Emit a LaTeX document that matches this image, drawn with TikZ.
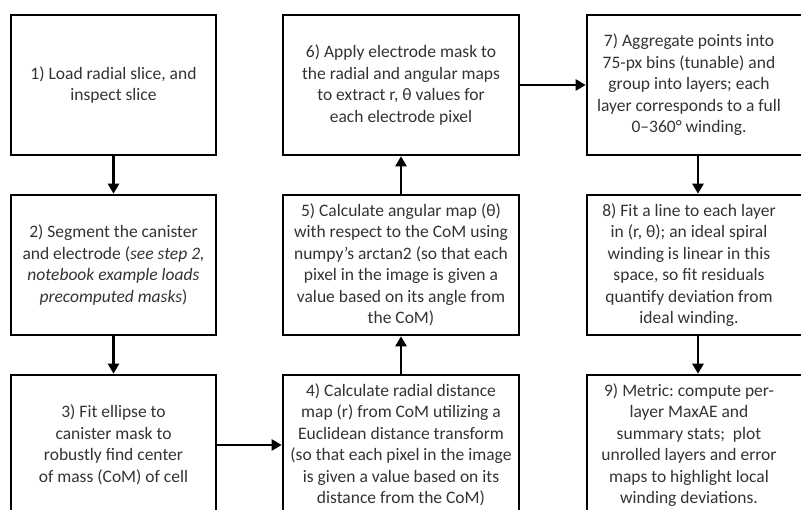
\documentclass[tikz,border=0pt]{standalone}
\usepackage{fontspec}
\setmainfont{Carlito}
\usetikzlibrary{arrows.meta}
\definecolor{txtc}{HTML}{333333}
\frenchspacing
\begin{document}
\begin{tikzpicture}[x=1pt,y=-1pt,
  box/.style={draw=black,line width=2.6pt,minimum width=#1,minimum height=140pt,inner sep=0pt},
  txt/.style={text=txtc,align=center,font=\fontsize{17.5}{21.5}\selectfont,inner sep=0pt},
  arr/.style={line width=2.4pt,-{Triangle[length=10pt,width=11pt]}}]
\useasboundingbox (0,0) rectangle (801,510);
% column 1
\node[box=205pt,txt] (b1) at (113.5,85) {1) Load radial slice, and\\inspect slice};
\node[box=205pt,txt] (b2) at (113.5,265) {2) Segment the canister\\and electrode (\textit{see step 2,}\\\textit{notebook example loads}\\\textit{precomputed masks})};
\node[box=205pt,txt] (b3) at (113.5,445) {3) Fit ellipse to\\canister mask to\\robustly find center\\of mass (CoM) of cell};
% column 2
\node[box=236pt,txt] (b6) at (401,85) {6) Apply electrode mask to\\the radial and angular maps\\to extract r, θ values for\\each electrode pixel};
\node[box=236pt,txt] (b5) at (401,265) {5) Calculate angular map (θ)\\with respect to the CoM using\\numpy’s arctan2 (so that each\\pixel in the image is given a\\value based on its angle from\\the CoM)};
\node[box=236pt,txt] (b4) at (401,445) {4) Calculate radial distance\\map (r) from CoM utilizing a\\Euclidean distance transform\\(so that each pixel in the image\\is given a value based on its\\distance from the CoM)};
% column 3
\node[box=222pt] (b7) at (698,85) {};
\node[box=222pt] (b8) at (698,265) {};
\node[box=222pt] (b9) at (698,445) {};
\node[txt] (t7) at (689,85) {7) Aggregate points into\\75-px bins (tunable) and\\group into layers; each\\layer corresponds to a full\\0–360° winding.};
\node[txt] (t8) at (689,265) {8) Fit a line to each layer\\in (r, θ); an ideal spiral\\winding is linear in this\\space, so fit residuals\\quantify deviation from\\ideal winding.};
\node[txt] (t9) at (689,445) {9) Metric: compute per-\\layer MaxAE and\\summary stats;\ \ plot\\unrolled layers and error\\maps to highlight local\\winding deviations.};
% connectors
\draw[arr] (b1.south) -- (b2.north);
\draw[arr] (b2.south) -- (b3.north);
\draw[arr] (b3.east) -- (b4.west);
\draw[arr] (b4.north) -- (b5.south);
\draw[arr] (b5.north) -- (b6.south);
\draw[arr] (b6.east) -- (b7.west);
\draw[arr] (b7.south) -- (b8.north);
\draw[arr] (b8.south) -- (b9.north);
\end{tikzpicture}
\end{document}
